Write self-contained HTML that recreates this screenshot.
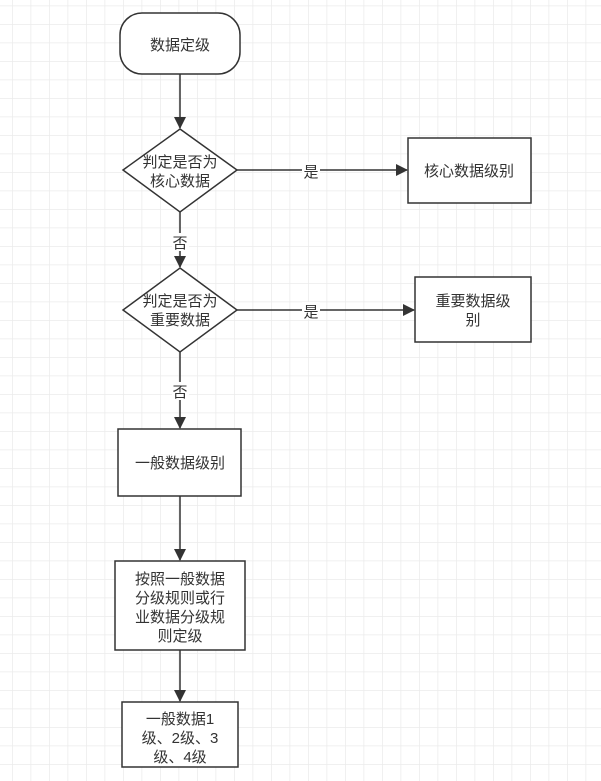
<!DOCTYPE html>
<html><head><meta charset="utf-8"><style>
html,body{margin:0;padding:0;background:#fff;}
svg{display:block;}
text{font-family:"Liberation Sans","Noto Sans CJK SC",sans-serif;font-size:15px;fill:#333;}
</style></head><body>
<svg width="601" height="781" viewBox="0 0 601 781" xmlns="http://www.w3.org/2000/svg">
<defs>
<pattern id="g" x="12" y="5.5" width="18.5" height="18.5" patternUnits="userSpaceOnUse">
<path d="M0 0H18.5M0 0V18.5" stroke="#ebebeb" stroke-width="1.5" fill="none"/>
</pattern>
<marker id="a" markerWidth="12" markerHeight="12" refX="11" refY="6" orient="auto" markerUnits="userSpaceOnUse">
<path d="M0,0 L12,6 L0,12 z" fill="#333"/>
</marker>
</defs>
<rect width="601" height="781" fill="url(#g)"/>
<g stroke="#333" stroke-width="1.5" fill="#fff">
<rect x="120" y="13" width="120" height="61" rx="22"/>
<polygon points="180,129 237,170 180,212 123,170"/>
<rect x="408" y="138" width="123" height="65"/>
<polygon points="180,268 237,310 180,352 123,310"/>
<rect x="415" y="277" width="116" height="65"/>
<rect x="118" y="429" width="123" height="67"/>
<rect x="115" y="561" width="130" height="89"/>
<rect x="122" y="702" width="116" height="65"/>
</g>
<g stroke="#333" stroke-width="1.5" fill="none">
<line x1="180" y1="74" x2="180" y2="128" marker-end="url(#a)"/>
<line x1="237" y1="170" x2="407" y2="170" marker-end="url(#a)"/>
<line x1="180" y1="212" x2="180" y2="267" marker-end="url(#a)"/>
<line x1="237" y1="310" x2="414" y2="310" marker-end="url(#a)"/>
<line x1="180" y1="352" x2="180" y2="428" marker-end="url(#a)"/>
<line x1="180" y1="496" x2="180" y2="560" marker-end="url(#a)"/>
<line x1="180" y1="650" x2="180" y2="701" marker-end="url(#a)"/>
</g>
<g fill="#fff">
<rect x="302" y="162" width="18" height="17"/>
<rect x="302" y="302" width="18" height="17"/>
<rect x="172" y="233" width="17" height="18"/>
<rect x="172" y="382" width="17" height="18"/>
</g>
<g text-anchor="middle">
<text x="180" y="50">数据定级</text>
<text x="180" y="167">判定是否为</text>
<text x="180" y="186">核心数据</text>
<text x="311" y="177">是</text>
<text x="469" y="176">核心数据级别</text>
<text x="180" y="248">否</text>
<text x="180" y="306">判定是否为</text>
<text x="180" y="325">重要数据</text>
<text x="311" y="317">是</text>
<text x="473" y="306">重要数据级</text>
<text x="473" y="325">别</text>
<text x="180" y="397">否</text>
<text x="180" y="468">一般数据级别</text>
<text x="180" y="584">按照一般数据</text>
<text x="180" y="603">分级规则或行</text>
<text x="180" y="622">业数据分级规</text>
<text x="180" y="641">则定级</text>
<text x="180" y="724">一般数据1</text>
<text x="180" y="743">级、2级、3</text>
<text x="180" y="762">级、4级</text>
</g>
</svg>
</body></html>
